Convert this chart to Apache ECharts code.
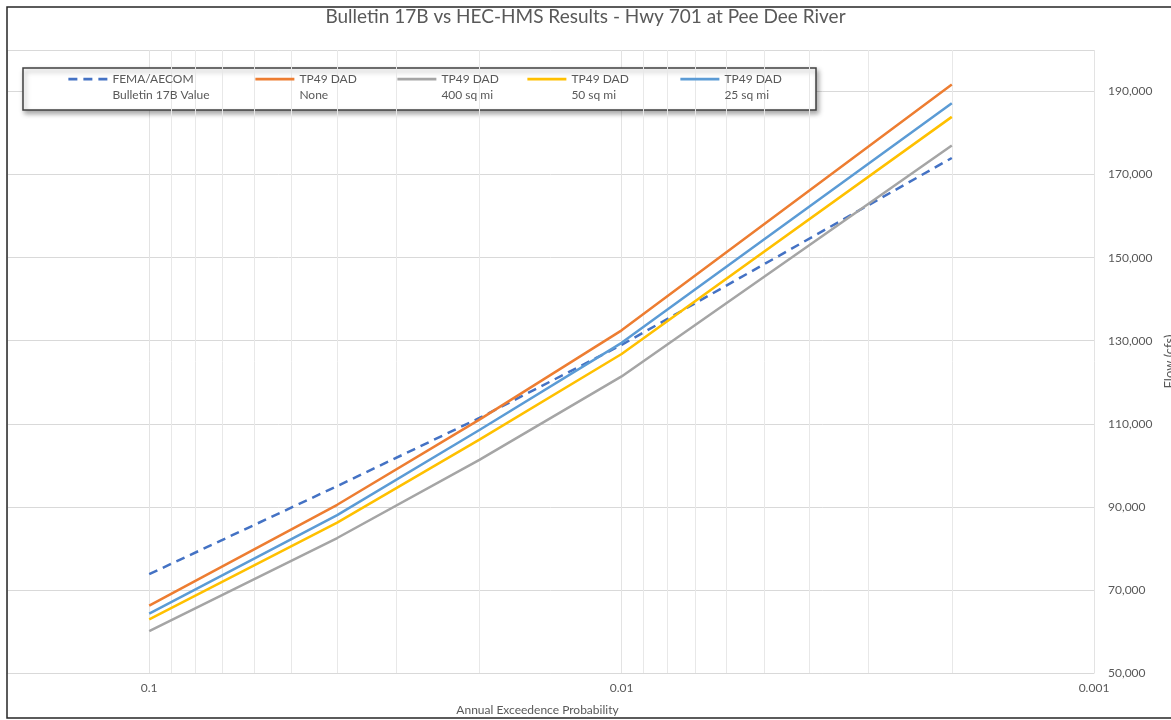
<!DOCTYPE html>
<html>
<head>
<meta charset="utf-8">
<title>Bulletin 17B vs HEC-HMS Results - Hwy 701 at Pee Dee River</title>
<script src="https://cdn.jsdelivr.net/npm/echarts@6/dist/echarts.min.js"></script>
<style>
  html, body { margin: 0; padding: 0; background: #ffffff; }
  #chart { width: 1171px; height: 720px; }
</style>
</head>
<body>
<div id="chart"></div>
<script>
// Annual exceedance probabilities of the computed events
const probabilities = [0.1, 0.04, 0.02, 0.01, 0.002];

// Peak flows (cfs) for each method
const femaFlow   = [73800, 95000, 111400, 129000, 174000];
const tp49None   = [66200, 90500, 111000, 132500, 191700];
const tp49Sq400  = [60100, 82500, 101300, 121400, 177000];
const tp49Sq50   = [62900, 86200, 106200, 126800, 183900];
const tp49Sq25   = [64300, 88000, 108500, 129500, 187200];

// Series names, split into the two legend lines
const legendLine1 = ['FEMA/AECOM', 'TP49 DAD', 'TP49 DAD', 'TP49 DAD', 'TP49 DAD'];
const legendLine2 = ['Bulletin 17B Value', 'None', '400 sq mi', '50 sq mi', '25 sq mi'];
const seriesValues = [femaFlow, tp49None, tp49Sq400, tp49Sq50, tp49Sq25];
const seriesColors = ['#4472C4', '#ED7D31', '#A5A5A5', '#FFC000', '#5B9BD5'];

// Axis ticks
const xTickLabels = ['0.1', '0.01', '0.001'];
const xMinorGrid = [0.09, 0.08, 0.07, 0.06, 0.05, 0.04, 0.03, 0.02,
                    0.009, 0.008, 0.007, 0.006, 0.005, 0.004, 0.003, 0.002];
const yTickLabels = ['50,000', '70,000', '90,000', '110,000', '130,000', '150,000', '170,000', '190,000'];
const Y_MIN = 50000, Y_MAX = 200000, Y_STEP = 20000;

const FONT = 'Lato, "Noto Sans", sans-serif';
const TEXT = '#595959';

const legendLeft = [67, 254, 396, 526, 679];

const seriesNames = legendLine1.map((a, i) => a + ' ' + legendLine2[i]);

const series = seriesValues.map((vals, i) => ({
  name: seriesNames[i],
  type: 'line',
  data: probabilities.map((p, k) => [p, vals[k]]),
  symbol: 'none',
  smooth: false,
  z: 3 + i,
  lineStyle: {
    color: seriesColors[i],
    width: 2.5,
    type: i === 0 ? [9, 6] : 'solid',
    cap: 'butt'
  },
  itemStyle: { color: seriesColors[i] },
  emphasis: { disabled: true }
}));

// light minor gridlines of the log axis, spanning the full value range
series.push({
  name: 'minor-grid',
  type: 'line',
  data: [],
  silent: true,
  z: 1,
  markLine: {
    z: 1,
    silent: true,
    symbol: ['none', 'none'],
    label: { show: false },
    lineStyle: { color: '#e8e8e8', width: 1, type: 'solid' },
    emphasis: { disabled: true },
    animation: false,
    data: xMinorGrid.map(v => [{ coord: [v, Y_MIN] }, { coord: [v, Y_MAX] }])
  }
});

const legends = seriesNames.map((n, i) => ({
  left: legendLeft[i],
  top: 55,
  orient: 'horizontal',
  padding: 0,
  itemWidth: 39,
  itemHeight: 14,
  itemGap: 0,
  selectedMode: false,
  z: 10,
  data: [n],
  itemStyle: { opacity: 0 },
  lineStyle: { width: 2.75 },
  formatter: () => '\n' + legendLine1[i] + '\n' + legendLine2[i],
  textStyle: { fontFamily: FONT, fontSize: 12, color: TEXT, lineHeight: 16 }
}));

const option = {
  animation: false,
  backgroundColor: '#ffffff',
  title: {
    text: 'Bulletin 17B vs HEC-HMS Results - Hwy 701 at Pee Dee River',
    left: 'center',
    top: 7,
    padding: 0,
    textStyle: { fontFamily: FONT, fontSize: 19, fontWeight: 'normal', color: TEXT }
  },
  legend: legends,
  grid: { left: 7, right: 77, top: 50, bottom: 47, containLabel: false, outerBoundsMode: 'none' },
  xAxis: {
    type: 'log',
    logBase: 10,
    min: 0.001,
    max: 0.2,
    interval: 1,
    inverse: true,
    name: 'Annual Exceedence Probability',
    nameLocation: 'middle',
    nameGap: 31,
    nameTextStyle: { fontFamily: FONT, fontSize: 12, color: TEXT, padding: [0, 26, 0, 0] },
    axisLine: { show: true, lineStyle: { color: '#d9d9d9', width: 1 } },
    axisTick: { show: false },
    splitLine: { show: true, lineStyle: { color: '#e3e3e3', width: 1 } },
    axisLabel: {
      fontFamily: FONT, fontSize: 12, color: TEXT, margin: 9,
      formatter: v => {
        const hit = xTickLabels.find(t => Math.abs(parseFloat(t) - v) / parseFloat(t) < 1e-6);
        return hit || '';
      }
    }
  },
  yAxis: {
    type: 'value',
    position: 'right',
    min: Y_MIN,
    max: Y_MAX,
    interval: Y_STEP,
    name: 'Flow (cfs)',
    nameLocation: 'middle',
    nameRotate: 90,
    nameGap: 65,
    nameTextStyle: { fontFamily: FONT, fontSize: 13, color: TEXT },
    axisLine: { show: false },
    axisTick: { show: false },
    splitLine: { show: true, lineStyle: { color: '#d9d9d9', width: 1 } },
    axisLabel: {
      fontFamily: FONT, fontSize: 12, color: TEXT, margin: 14, align: 'left',
      formatter: v => {
        const idx = Math.round((v - Y_MIN) / Y_STEP);
        return (Math.abs(v - Y_MIN - idx * Y_STEP) < 1 && yTickLabels[idx]) ? yTickLabels[idx] : '';
      }
    }
  },
  graphic: [
    {
      type: 'rect',
      z: 1,
      silent: true,
      shape: { x: 23, y: 68, width: 793, height: 42 },
      style: {
        fill: '#ffffff',
        stroke: '#404040',
        lineWidth: 1.5,
        shadowBlur: 5,
        shadowOffsetX: 2,
        shadowOffsetY: 3,
        shadowColor: 'rgba(0,0,0,0.35)'
      }
    },
    {
      type: 'rect',
      z: 20,
      silent: true,
      shape: { x: 7, y: 7, width: 1190, height: 711 },
      style: { fill: 'none', stroke: '#262626', lineWidth: 1.5 }
    }
  ],
  series: series
};

const chart = echarts.init(document.getElementById('chart'), null, { renderer: 'canvas' });
chart.setOption(option);
</script>
</body>
</html>
